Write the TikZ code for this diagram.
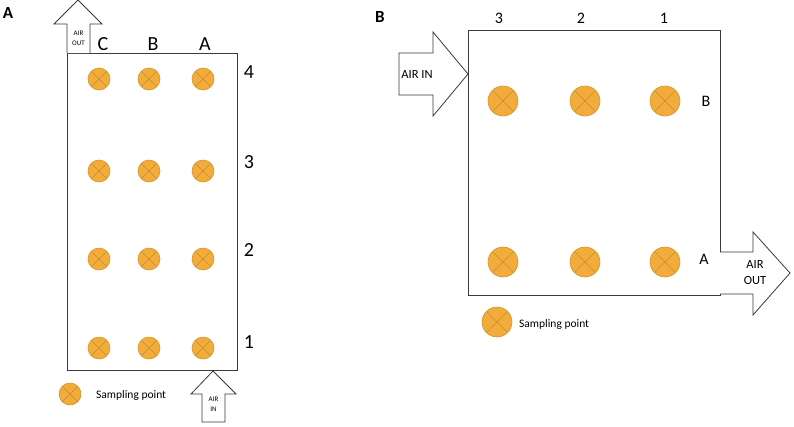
\documentclass[tikz,border=0pt]{standalone}
\usepackage{fontspec}
\setmainfont{Carlito}
\definecolor{ptfill}{HTML}{F2AC3C}
\definecolor{ptedge}{HTML}{D4952A}
\definecolor{ptcross}{HTML}{C98A28}
\definecolor{linecol}{HTML}{3A3A3A}
\tikzset{
  sp/.style={circle, draw=ptedge, fill=ptfill, line width=0.6pt, inner sep=0pt, minimum size=#1,
    path picture={\draw[ptcross, line width=0.5pt]
      (path picture bounding box.north west) -- (path picture bounding box.south east)
      (path picture bounding box.north east) -- (path picture bounding box.south west);}},
  sp/.default=22pt,
  box/.style={draw=linecol, line width=0.8pt},
  arr/.style={draw=linecol, line width=0.8pt, fill=white, line join=miter},
  lab/.style={inner sep=0pt, font=\fontsize{20}{22}\selectfont},
  labb/.style={inner sep=0pt, font=\fontsize{16}{18}\selectfont},
  tiny/.style={inner sep=0pt, align=center, font=\fontsize{7}{10}\selectfont},
  mid/.style={inner sep=0pt, align=center, font=\fontsize{12.5}{16}\selectfont},
  legend/.style={inner sep=0pt, anchor=west, font=\fontsize{11.5}{13}\selectfont},
  panel/.style={inner sep=0pt, font=\fontsize{17}{19}\selectfont\bfseries}
}
\begin{document}
\begin{tikzpicture}[x=1pt, y=-1pt]
\useasboundingbox (0,0) rectangle (794,426);

% ---------- Panel A ----------
\node[panel] (pA) at (8,13) {A};
\draw[box] (67,53) rectangle (237,370);
\coordinate (roomA) at (152,211);
% air out arrow (up)
\draw[arr] (67,53) -- (67,24) -- (54,24) -- (78,0) -- (102,24) -- (90,24) -- (90,53);
\node[tiny] (aoutA) at (78.5,38) {AIR\\OUT};
% air in arrow (up from bottom)
\draw[arr] (202,422) -- (202,394) -- (191,394) -- (213,371) -- (236,394) -- (225,394) -- (225,422) -- cycle;
\node[tiny] (ainA) at (213.5,404) {AIR\\IN};
% column labels
\node[lab] (cC) at (103,44) {C};
\node[lab] (cB) at (153,44) {B};
\node[lab] (cA) at (205,44) {A};
% row labels
\node[lab] (r4) at (249,72) {4};
\node[lab] (r3) at (249,162) {3};
\node[lab] (r2) at (249,250) {2};
\node[lab] (r1) at (249,342) {1};
% sampling points
\foreach \c/\x in {C/99,B/149,A/203}{
  \foreach \r/\y in {4/79,3/171,2/259,1/348}{
    \node[sp] (p\c\r) at (\x,\y) {};
  }
}
% legend
\node[sp] (legA) at (70,394) {};
\node[legend] (legAt) at (96,395) {Sampling point};

% ---------- Panel B ----------
\node[panel] (pB) at (380,17) {B};
\draw[box] (468,30) rectangle (720,295);
% air in arrow (right)
\draw[arr] (399,53) -- (433,53) -- (433,32) -- (468,74) -- (433,116) -- (433,95) -- (399,95) -- cycle;
\node[mid] (ainB) at (417,74) {AIR IN};
% air out arrow (right)
\draw[arr] (720,252) -- (753,252) -- (753,232) -- (790,273) -- (753,315) -- (753,294) -- (720,294);
\node[mid] (aoutB) at (755,273) {AIR\\OUT};
% column labels
\node[labb] (c3) at (499,18) {3};
\node[labb] (c2) at (581,18) {2};
\node[labb] (c1) at (664,18) {1};
% row labels
\node[labb] (rB) at (706,101) {B};
\node[labb] (rA) at (704,259) {A};
% sampling points
\foreach \c/\x in {3/503,2/585,1/665}{
  \foreach \r/\y in {B/101,A/262}{
    \node[sp=30pt] (q\c\r) at (\x,\y) {};
  }
}
% legend
\node[sp=30pt] (legB) at (497,322) {};
\node[legend] (legBt) at (519,324) {Sampling point};
\end{tikzpicture}
\end{document}
